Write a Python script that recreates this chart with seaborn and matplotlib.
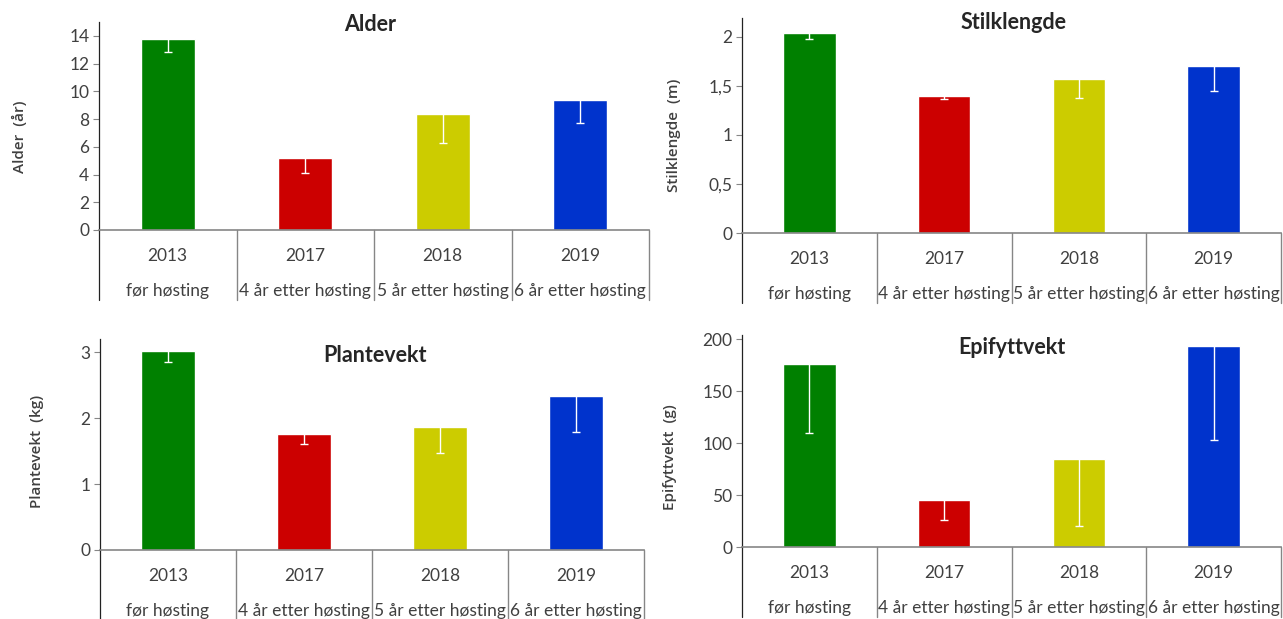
import numpy as np
import pandas as pd
import matplotlib
matplotlib.use('Agg')
import matplotlib.pyplot as plt
import seaborn as sns
from matplotlib.ticker import FuncFormatter

# data
years = ['2013', '2017', '2018', '2019']
periods = ['før høsting', '4 år etter høsting', '5 år etter høsting', '6 år etter høsting']
colors = ['#008000', '#CC0000', '#CCCC00', '#0033CC']

alder = [13.8, 5.2, 8.4, 9.35]
alder_err = [0.95, 1.1, 2.15, 1.6]

stilk = [2.04, 1.40, 1.57, 1.70]
stilk_err = [0.065, 0.04, 0.19, 0.25]

plante = [3.02, 1.76, 1.86, 2.33]
plante_err = [0.17, 0.15, 0.39, 0.54]

epi = [176, 45, 85, 193]
epi_err = [66, 19, 65, 90]

sns.set_style('white')
plt.rcParams['font.family'] = ['Lato', 'DejaVu Sans']

W, H = 1283, 619
fig = plt.figure(figsize=(W / 100, H / 100), dpi=100)

txt_col = '#404040'
line_col = '#868686'


def px_axes(l, r, zero, top):
    return fig.add_axes([l / W, 1 - zero / H, (r - l) / W, (zero - top) / H])


panels = [
    # values, errors, title, ylabel, ylim, ticks, box(px), label pos, title pos
    (alder, alder_err, 'Alder', 'Alder  (år)', 15, [0, 2, 4, 6, 8, 10, 12, 14],
     (99, 649, 230, 22), (-0.131, 0.447), (0.493, 0.986)),
    (stilk, stilk_err, 'Stilklengde', 'Stilklengde  (m)', 2.19, [0, 0.5, 1, 1.5, 2],
     (742, 1281, 233, 18), (-0.113, 0.456), (0.503, 0.977)),
    (plante, plante_err, 'Plantevekt', 'Plantevekt  (kg)', 3.2, [0, 1, 2, 3],
     (100, 644, 550, 339), (-0.103, 0.469), (0.505, 0.924)),
    (epi, epi_err, 'Epifyttvekt', 'Epifyttvekt  (g)', 204, [0, 50, 100, 150, 200],
     (742, 1281, 547, 335), (-0.121, 0.425), (0.50, 0.939)),
]

for vals, errs, title, ylab, ytop, ticks, box, labpos, titpos in panels:
    ax = px_axes(*box)
    df = pd.DataFrame({'year': years, 'value': vals})
    sns.barplot(data=df, x='year', y='value', hue='year', palette=colors,
                width=0.39, saturation=1, legend=False, ax=ax)
    ax.errorbar(np.arange(4), vals, yerr=errs, fmt='none', ecolor='white',
                elinewidth=1, capsize=3, capthick=1)
    ax.set_xlim(-0.5, 3.5)
    ax.set_ylim(0, ytop)
    ax.set_yticks(ticks)
    ax.yaxis.set_major_formatter(FuncFormatter(lambda v, p: ('%g' % v).replace('.', ',')))
    ax.tick_params(axis='y', left=True, length=4, width=0.8, color=line_col,
                   labelsize=12.5, labelcolor=txt_col, pad=3)
    ax.set_xticks([])
    ax.set_xlabel('')
    ax.set_ylabel(ylab, fontsize=11, color=txt_col, family='Open Sans', weight='semibold')
    ax.yaxis.set_label_coords(*labpos)
    for s in ['top', 'right']:
        ax.spines[s].set_visible(False)
    ax.spines['left'].set_color('#222222')
    ax.spines['left'].set_linewidth(0.9)
    ax.spines['bottom'].set_color(line_col)
    ax.spines['bottom'].set_linewidth(1.2)
    ax.text(titpos[0], titpos[1], title, transform=ax.transAxes, ha='center', va='center',
            fontsize=15.5, weight='bold', color='#262626')

    # two-level category axis
    h_px = box[2] - box[3]
    tr = ax.get_xaxis_transform()
    for i in range(4):
        ax.text(i, -26 / h_px, years[i], transform=tr, ha='center', va='center',
                fontsize=12.5, color=txt_col, clip_on=False)
        ax.text(i, -61 / h_px, periods[i], transform=tr, ha='center', va='center',
                fontsize=12.5, color=txt_col, clip_on=False)
    for xd in [-0.5, 0.5, 1.5, 2.5, 3.5]:
        ax.plot([xd, xd], [0, -70 / h_px], transform=tr, color=line_col if xd > -0.5 else '#222222',
                lw=0.9 if xd == -0.5 else 1.0, clip_on=False)

fig.savefig('out.png', dpi=100)
